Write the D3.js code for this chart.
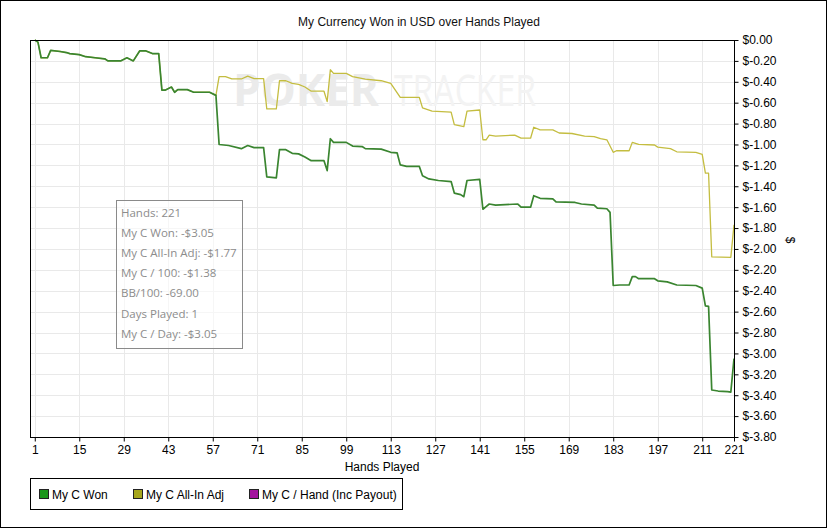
<!DOCTYPE html>
<html>
<head>
<meta charset="utf-8">
<script src="https://cdn.jsdelivr.net/npm/d3@7"></script>
<style>
  body { margin: 0; background: #fff; }
  svg { display: block; font-family: "Liberation Sans", Arial, sans-serif; }
</style>
</head>
<body>
<svg id="chart"></svg>
<script>
// hands played at each change point, and the running total (USD)
var wonHands = [1,2,3,5,6,9,11,12,15,17,20,23,24,28,30,32,34,36,38,40,41,42,44,45,46,49,51,56,58,
  59,62,66,68,70,73,74,77,78,80,82,84,86,88,92,93,94,95,99,101,104,105,110,113,115,116,118,122,123,
  125,128,132,133,135,136,137,141,142,143,144,146,153,154,157,158,160,164,165,171,173,177,178,181,182,
  183,185,188,189,190,191,196,197,200,203,209,211,212,213,214,216,219,220,221];
var wonValues = [0,-0.02,-0.17,-0.17,-0.10,-0.11,-0.12,-0.13,-0.14,-0.16,-0.17,-0.18,-0.20,-0.20,-0.17,-0.20,-0.105,-0.105,-0.13,-0.13,-0.48,-0.48,-0.45,-0.50,-0.475,-0.475,-0.50,-0.50,-0.53,
  -1.00,-1.01,-1.04,-1.01,-1.03,-1.03,-1.31,-1.32,-1.05,-1.05,-1.085,-1.09,-1.12,-1.155,-1.155,-1.25,-0.945,-0.98,-0.98,-1.015,-1.02,-1.04,-1.045,-1.075,-1.08,-1.195,-1.21,-1.21,-1.30,
  -1.33,-1.345,-1.355,-1.465,-1.48,-1.50,-1.345,-1.335,-1.62,-1.595,-1.57,-1.58,-1.57,-1.60,-1.60,-1.49,-1.515,-1.52,-1.55,-1.555,-1.57,-1.58,-1.61,-1.615,-1.65,
  -2.35,-2.345,-2.345,-2.265,-2.265,-2.285,-2.285,-2.305,-2.315,-2.345,-2.35,-2.375,-2.545,-2.55,-3.35,-3.36,-3.365,-3.37,-3.05];

var adjHands = [1,2,3,5,6,9,11,12,15,17,20,23,24,28,30,32,34,36,38,40,41,42,44,45,46,49,51,56,58,
  59,61,63,66,68,70,73,74,77,78,80,82,84,86,88,92,93,94,95,99,101,105,110,113,116,122,123,126,132,
  133,136,137,141,142,143,144,146,152,154,157,158,160,164,166,170,174,177,179,181,183,184,188,189,
  191,196,197,201,203,209,211,212,213,214,220,221];
var adjValues = [0,-0.02,-0.17,-0.17,-0.10,-0.11,-0.12,-0.13,-0.14,-0.16,-0.17,-0.18,-0.20,-0.20,-0.17,-0.20,-0.105,-0.105,-0.13,-0.13,-0.48,-0.48,-0.45,-0.50,-0.475,-0.475,-0.50,-0.50,-0.53,
  -0.35,-0.35,-0.373,-0.373,-0.345,-0.37,-0.37,-0.66,-0.66,-0.39,-0.39,-0.415,-0.425,-0.45,-0.49,-0.49,-0.59,-0.285,-0.32,-0.32,-0.35,-0.375,-0.39,-0.415,-0.55,-0.55,-0.65,-0.68,-0.69,
  -0.81,-0.83,-0.68,-0.67,-0.955,-0.955,-0.91,-0.92,-0.91,-0.94,-0.94,-0.835,-0.86,-0.86,-0.89,-0.895,-0.92,-0.925,-0.945,-0.955,-1.075,-1.06,-1.06,-0.98,
  -1.00,-1.005,-1.025,-1.04,-1.07,-1.075,-1.095,-1.275,-1.275,-2.075,-2.08,-1.77];

var xTicks = [1,15,29,43,57,71,85,99,113,127,141,155,169,183,197,211,221];
var yTicks = d3.range(0, 20).map(function(i) { return -i * 0.2; });

var seriesNames = ["My C Won", "My C All-In Adj", "My C / Hand (Inc Payout)"];
var seriesColors = ["#1b961b", "#a6a61c", "#a3129e"];

var statsLines = ["Hands: 221", "My C Won: -$3.05", "My C All-In Adj: -$1.77", "My C / 100: -$1.38",
  "BB/100: -69.00", "Days Played: 1", "My C / Day: -$3.05"];

var W = 827, H = 528;
var plot = {left: 30, top: 40, right: 734, bottom: 437};

var svg = d3.select("#chart").attr("width", W).attr("height", H);

svg.append("rect").attr("x", 0.5).attr("y", 0.5).attr("width", W - 1).attr("height", H - 1)
  .attr("fill", "#fff").attr("stroke", "#000");

var x = d3.scaleLinear().domain([-0.5, 221]).range([plot.left, plot.right]);
var y = d3.scaleLinear().domain([-3.8, 0]).range([plot.bottom, plot.top]);

// title
svg.append("text").attr("x", 419).attr("y", 26).attr("text-anchor", "middle")
  .attr("font-size", 12).attr("fill", "#111").text("My Currency Won in USD over Hands Played");

// grid
var grid = svg.append("g").attr("stroke", "#e9e9e9").attr("stroke-width", 1);
grid.selectAll("line.v").data(xTicks).enter().append("line")
  .attr("x1", function(d) { return Math.round(x(d)) + 0.5; })
  .attr("x2", function(d) { return Math.round(x(d)) + 0.5; })
  .attr("y1", plot.top).attr("y2", plot.bottom);
grid.selectAll("line.h").data(yTicks).enter().append("line")
  .attr("y1", function(d) { return Math.round(y(d)) + 0.5; })
  .attr("y2", function(d) { return Math.round(y(d)) + 0.5; })
  .attr("x1", plot.left).attr("x2", plot.right);

// watermark
var wm = svg.append("g").attr("font-family", "'Open Sans', 'Liberation Sans', sans-serif")
  .attr("font-size", 44).attr("font-weight", "bold");
wm.append("text").attr("x", 233).attr("y", 106).attr("fill", "#ebebeb")
  .attr("textLength", 146).attr("lengthAdjust", "spacingAndGlyphs").text("POKER");
wm.append("text").attr("x", 394).attr("y", 106).attr("fill", "#f3f3f3").attr("font-weight", "normal")
  .attr("textLength", 142).attr("lengthAdjust", "spacingAndGlyphs").text("TRACKER");

// lines
var line = d3.line().x(function(d) { return x(d[0]); }).y(function(d) { return y(d[1]); });
var adjData = adjHands.map(function(h, i) { return [h, adjValues[i]]; });
var wonData = wonHands.map(function(h, i) { return [h, wonValues[i]]; });

svg.append("path").datum(adjData).attr("d", line).attr("fill", "none")
  .attr("stroke", "#c4bd40").attr("stroke-width", 1.3).attr("stroke-linejoin", "round");
svg.append("path").datum(wonData).attr("d", line).attr("fill", "none")
  .attr("stroke", "#3a8530").attr("stroke-width", 1.7).attr("stroke-linejoin", "round");

// plot frame
svg.append("rect").attr("x", plot.left + 0.5).attr("y", plot.top + 0.5)
  .attr("width", plot.right - plot.left).attr("height", plot.bottom - plot.top)
  .attr("fill", "none").attr("stroke", "#000");

// x axis
var xAxis = svg.append("g").attr("transform", "translate(0," + (plot.bottom + 0.5) + ")")
  .call(d3.axisBottom(x).tickValues(xTicks).tickSize(4).tickSizeOuter(0).tickPadding(4));
xAxis.select(".domain").remove();
xAxis.selectAll("text").attr("font-family", "'Liberation Sans', Arial, sans-serif").attr("font-size", 12).attr("fill", "#000");

svg.append("text").attr("x", 382).attr("y", 471).attr("text-anchor", "middle")
  .attr("font-size", 12).text("Hands Played");

// y axis on the right
var yAxis = svg.append("g").attr("transform", "translate(" + (plot.right + 0.5) + ",0)")
  .call(d3.axisRight(y).tickValues(yTicks).tickSize(4).tickSizeOuter(0).tickPadding(4)
    .tickFormat(function(d) { return "$" + (Math.abs(d) < 1e-9 ? "0.00" : d.toFixed(2)); }));
yAxis.select(".domain").remove();
yAxis.selectAll("text").attr("font-family", "'Liberation Sans', Arial, sans-serif").attr("font-size", 12).attr("fill", "#000");

svg.append("text").attr("transform", "translate(786,240) rotate(90)").attr("text-anchor", "middle")
  .attr("font-size", 12).text("$");

// stats box
var stats = svg.append("g");
stats.append("rect").attr("x", 116.5).attr("y", 200.5).attr("width", 126).attr("height", 148)
  .attr("fill", "#fff").attr("fill-opacity", 0.6).attr("stroke", "#8a8a8a");
stats.selectAll("text").data(statsLines).enter().append("text")
  .attr("x", 121).attr("y", function(d, i) { return 217 + i * 20.1; })
  .attr("font-family", "'Open Sans', 'Noto Sans', sans-serif").attr("font-size", 11.5)
  .attr("fill", "#8c8c8c").text(function(d) { return d; });

// legend
var legend = svg.append("g");
legend.append("rect").attr("x", 30.5).attr("y", 478.5).attr("width", 372).attr("height", 31)
  .attr("fill", "#fff").attr("stroke", "#000");
var legX = [39, 133, 249];
var items = legend.selectAll("g.item").data(seriesNames).enter().append("g")
  .attr("transform", function(d, i) { return "translate(" + legX[i] + ",489)"; });
items.append("rect").attr("x", 0.5).attr("y", 0.5).attr("width", 9).attr("height", 9)
  .attr("fill", function(d, i) { return seriesColors[i]; }).attr("stroke", "#222");
items.append("text").attr("x", 13).attr("y", 9.5).attr("font-size", 12)
  .text(function(d) { return d; });
</script>
</body>
</html>
